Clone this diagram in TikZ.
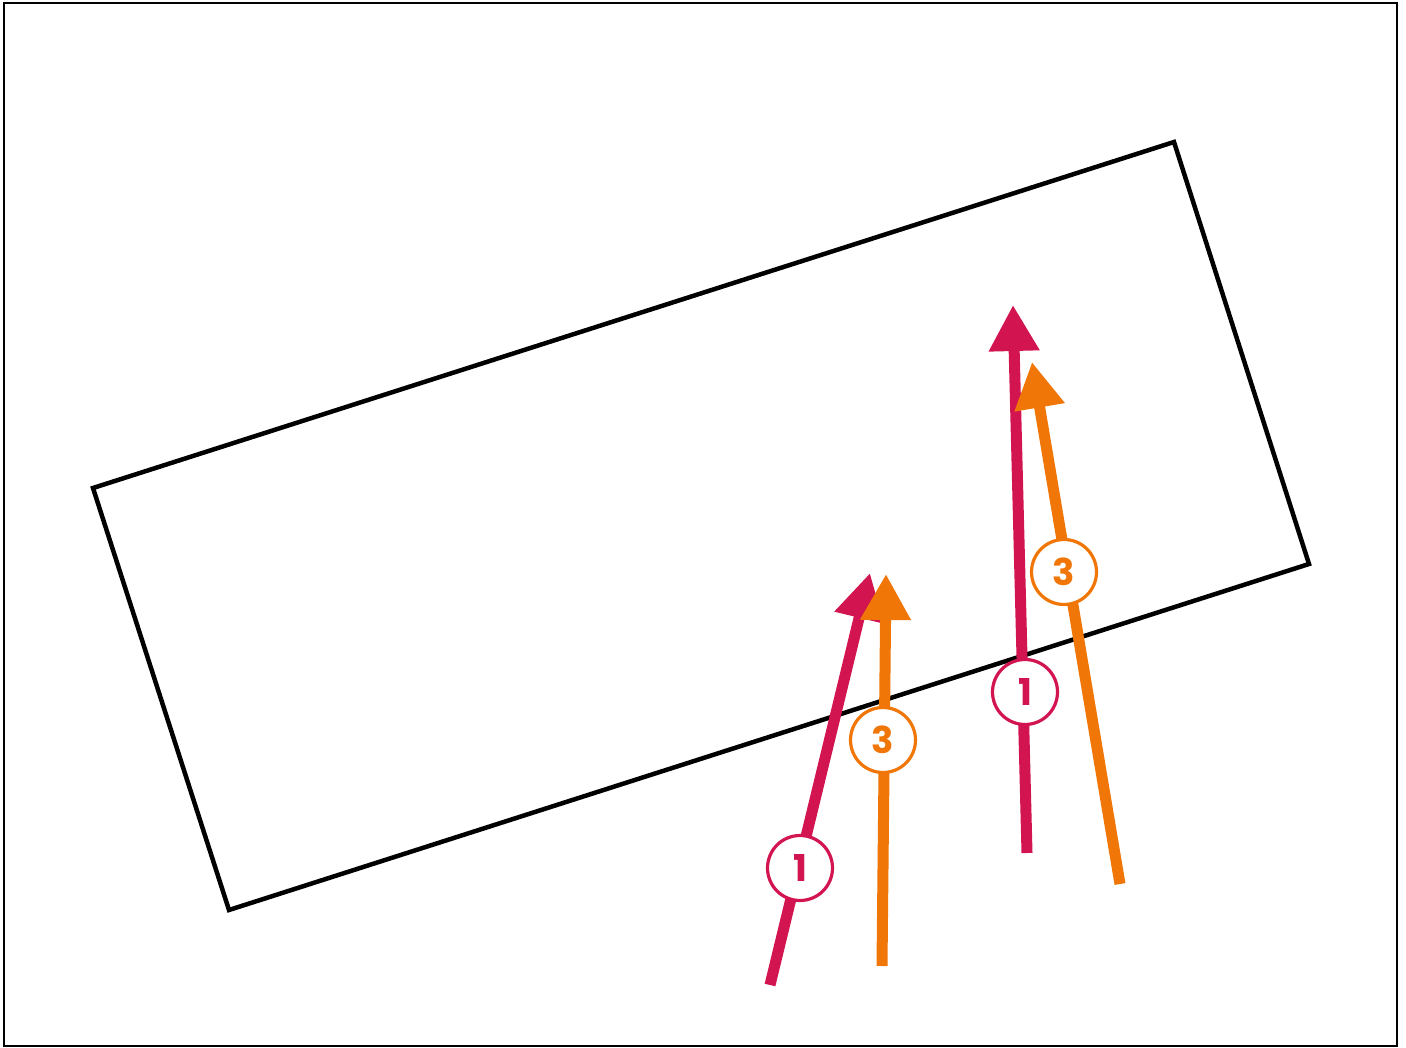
\documentclass[tikz,border=0pt]{standalone}
\usepackage{fontspec}
\setmainfont{Poppins}
\usetikzlibrary{arrows.meta}
\definecolor{crim}{RGB}{210,20,80}
\definecolor{orng}{RGB}{240,118,8}
\begin{document}
\begin{tikzpicture}[x=1pt,y=-1pt,
  ray/.style={line width=11pt,-{Triangle[length=46pt,width=48pt]}},
  tag/.style={circle,draw,line width=3.2pt,fill=white,minimum size=65pt,inner sep=0pt,
    font=\fontsize{37}{37}\selectfont\bfseries},
  plate/.style={line width=4.5pt,line join=miter}]
\useasboundingbox (0,0) rectangle (1406,1048);
\draw[line width=2.5pt] (4,3) rectangle (1397,1046);
% rotated rectangle
\coordinate (p1) at (93,488);
\coordinate (p2) at (1174,142);
\coordinate (p3) at (1309,564);
\coordinate (p4) at (229,910);
\draw[plate] (p1) -- (p2) -- (p3) -- (p4) -- cycle;
% left pair
\coordinate (a0) at (770,985);
\coordinate (a1) at (870,573);
\coordinate (b0) at (882,966);
\coordinate (b1) at (886,574);
\draw[ray,crim] (a0) -- (a1);
\draw[ray,orng] (b0) -- (b1);
\node[tag,draw=crim,text=crim] (l1) at (800,868) {1};
\node[tag,draw=orng,text=orng] (l3) at (883,740) {3};
% right pair
\coordinate (c0) at (1027,853);
\coordinate (c1) at (1013,305);
\coordinate (d0) at (1120,884);
\coordinate (d1) at (1032,362);
\draw[ray,crim] (c0) -- (c1);
\draw[ray,orng] (d0) -- (d1);
\node[tag,draw=crim,text=crim] (r1) at (1025,692) {1};
\node[tag,draw=orng,text=orng] (r3) at (1064,572) {3};
\end{tikzpicture}
\end{document}
